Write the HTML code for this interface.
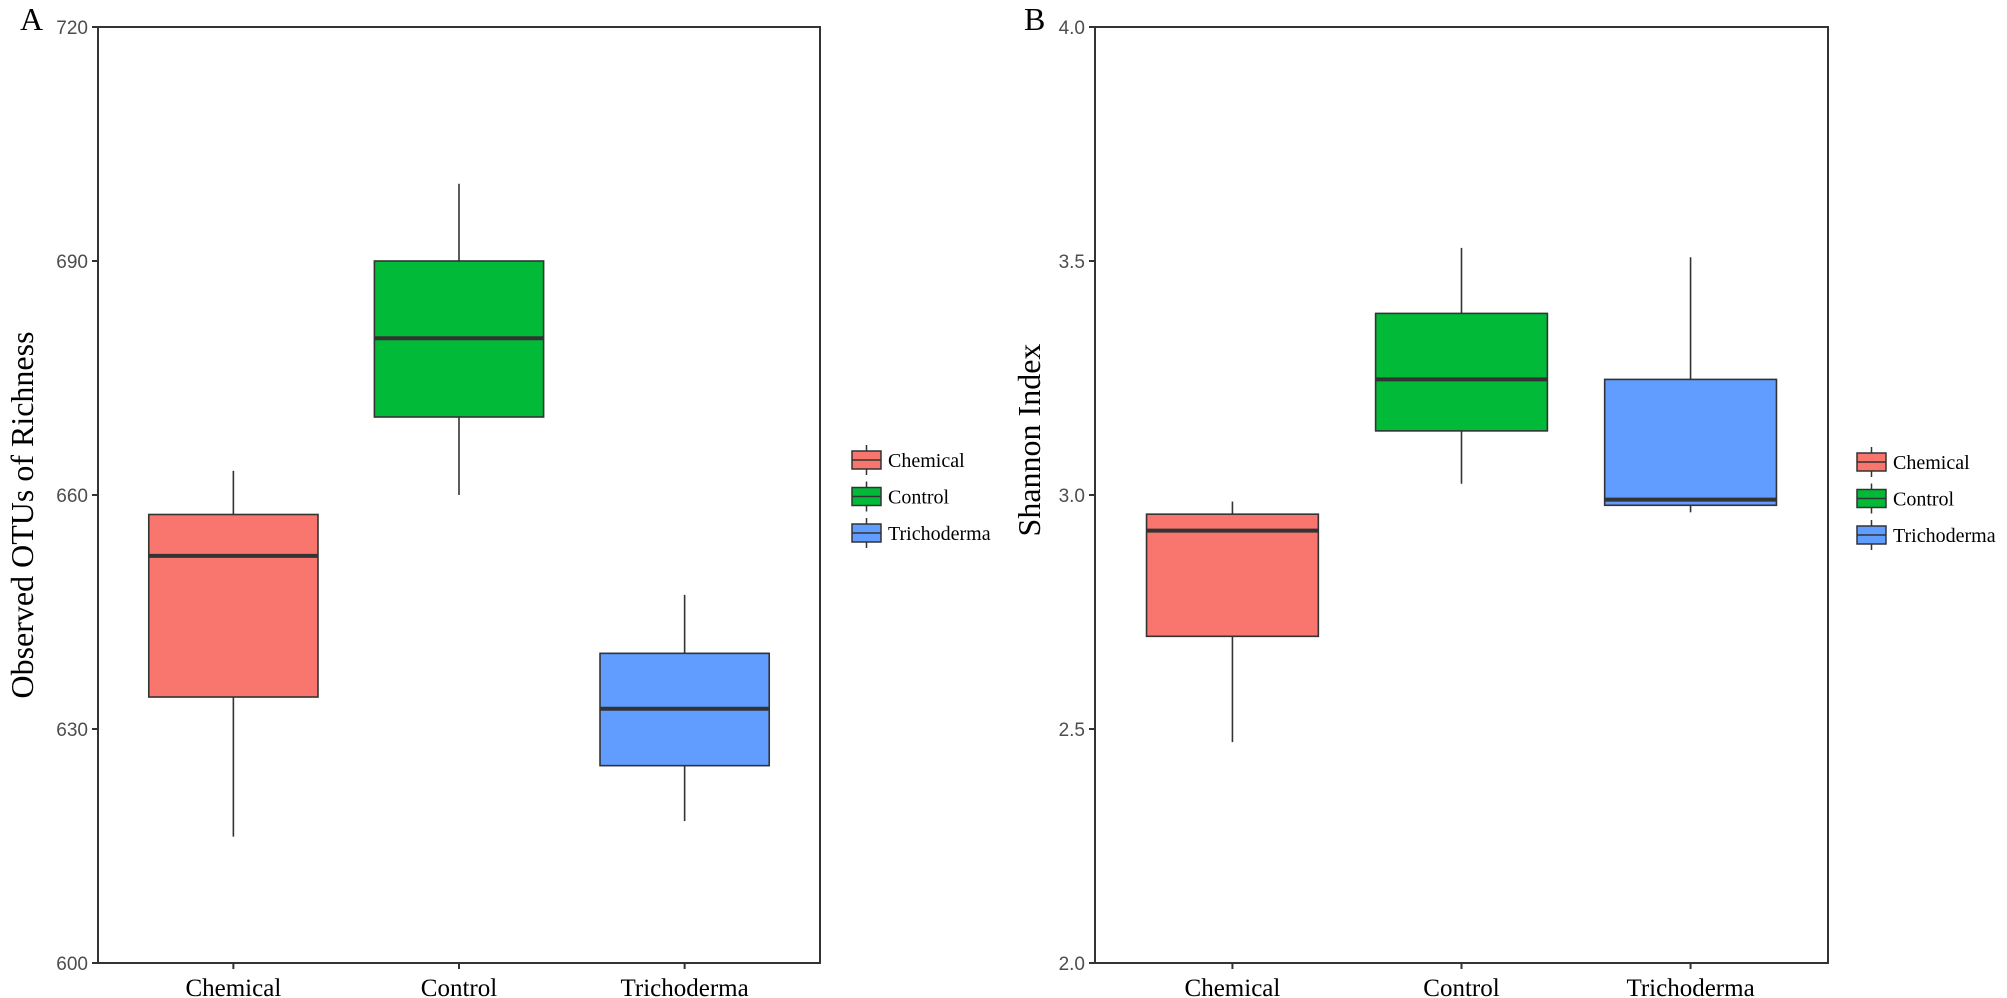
<!DOCTYPE html>
<html><head><meta charset="utf-8">
<style>
html,body{margin:0;padding:0;background:#fff;}
svg{display:block;}
.tick{font-family:"Liberation Sans",sans-serif;font-size:19px;fill:#4d4d4d;}
.xl{font-family:"Liberation Serif",serif;font-size:25px;fill:#000;}
.leg{font-family:"Liberation Serif",serif;font-size:20px;fill:#000;}
.ttl{font-family:"Liberation Serif",serif;font-size:32px;fill:#000;}
</style></head>
<body>
<svg id="chart" width="2007" height="998" viewBox="0 0 2007 998" xmlns="http://www.w3.org/2000/svg"></svg>
<script>
const categories = ["Chemical","Control","Trichoderma"];
const colors = ["#F8766D","#00BA38","#619CFF"];
// [min, q1, median, q3, max]
const richnessStats = [
  [616.2,634.1,652.2,657.5,663.1],
  [660,670,680.1,690,699.9],
  [618.2,625.3,632.6,639.7,647.2]
];
const shannonStats = [
  [2.472,2.698,2.924,2.959,2.986],
  [3.024,3.137,3.247,3.388,3.528],
  [2.963,2.978,2.990,3.247,3.508]
];
const richnessTicks = [600,630,660,690,720];
const shannonTicks = [2.0,2.5,3.0,3.5,4.0];
const shannonTickLabels = ["2.0","2.5","3.0","3.5","4.0"];

const NS="http://www.w3.org/2000/svg";
const svg=document.getElementById('chart');
function mk(tag,attrs,parent){const e=document.createElementNS(NS,tag);for(const k in attrs)e.setAttribute(k,attrs[k]);(parent||svg).appendChild(e);return e;}

function panel(cfg){
  const g=mk('g',{});
  
  
  const L=cfg.left,R=cfg.right,T=27,B=963;
  const y=v=>B-(v-cfg.ymin)/(cfg.ymax-cfg.ymin)*(B-T);
  const unit=(R-L)/3.2;
  const x=i=>L+(i+0.6)*unit;
  const bw=0.75*unit;
  // frame
  const fr=mk('rect',{x:L,y:T,width:R-L,height:B-T,fill:'none',stroke:'#333','stroke-width':2},g);
  
  
  // y ticks
  cfg.ticks.forEach((t,i)=>{
    mk('line',{x1:L-6,x2:L,y1:y(t),y2:y(t),stroke:'#333','stroke-width':2},g);
    const tx=mk('text',{x:L-10,y:y(t)+7,'text-anchor':'end',class:'tick'},g);
    tx.textContent=cfg.labels[i];
    
    
  });
  // boxes
  cfg.stats.forEach((s,i)=>{
    const cx=x(i);
    mk('line',{x1:L+(i+0.6)*unit,x2:cx,y1:B,y2:B+6,stroke:'#333','stroke-width':2},g);
    const xl=mk('text',{x:cx,y:996,'text-anchor':'middle',class:'xl'},g);
    xl.textContent=categories[i];
    
    
    const bg=mk('g',{},g);
    
    
    mk('line',{x1:cx,x2:cx,y1:y(s[4]),y2:y(s[3]),stroke:'#333','stroke-width':1.6},bg);
    mk('line',{x1:cx,x2:cx,y1:y(s[1]),y2:y(s[0]),stroke:'#333','stroke-width':1.6},bg);
    mk('rect',{x:cx-bw/2,y:y(s[3]),width:bw,height:y(s[1])-y(s[3]),fill:colors[i],stroke:'#333','stroke-width':1.6},bg);
    mk('line',{x1:cx-bw/2,x2:cx+bw/2,y1:y(s[2]),y2:y(s[2]),stroke:'#333','stroke-width':4},bg);
  });
  // y title
  const yt=mk('text',{x:cfg.titleX,y:cfg.titleY,'text-anchor':'middle',class:'ttl',transform:`rotate(-90 ${cfg.titleX} ${cfg.titleY})`},g);
  yt.textContent=cfg.title;
  
  
  // panel letter
  const pl=mk('text',{x:cfg.letterX,y:30,class:'ttl'},g);
  pl.textContent=cfg.letter;
  
  
  // legend
  const lg=mk('g',{},g);
  
  
  categories.forEach((c,i)=>{
    const cy=cfg.legY+i*36.5;
    const e=mk('g',{},lg);
    
    
    const sx=cfg.legX;
    mk('line',{x1:sx+14.5,x2:sx+14.5,y1:cy-15,y2:cy+15,stroke:'#333','stroke-width':1.5},e);
    mk('rect',{x:sx,y:cy-9,width:29,height:18,fill:colors[i],stroke:'#333','stroke-width':1.5},e);
    mk('line',{x1:sx,x2:sx+29,y1:cy,y2:cy,stroke:'#333','stroke-width':1.5},e);
    const t=mk('text',{x:sx+36,y:cy+7,class:'leg'},e);
    t.textContent=c;
  });
}
panel({name:'panel-a-richness',left:98,right:820,ymin:600,ymax:720,stats:richnessStats,ticks:richnessTicks,labels:richnessTicks.map(String),title:'Observed OTUs of Richness',titleX:33,titleY:515,letter:'A',letterX:20,legX:852,legY:460});
panel({name:'panel-b-shannon',left:1095,right:1828,ymin:2.0,ymax:4.0,stats:shannonStats,ticks:shannonTicks,labels:shannonTickLabels,title:'Shannon Index',titleX:1040,titleY:440,letter:'B',letterX:1024,legX:1857,legY:462});
</script>
</body></html>
